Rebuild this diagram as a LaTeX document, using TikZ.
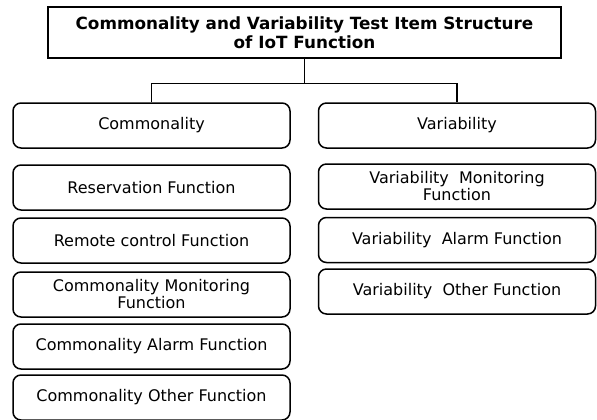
\documentclass[tikz,border=0pt]{standalone}
\usepackage{fontspec}
\setmainfont{DejaVu Sans}
\usetikzlibrary{calc}

\tikzset{
  titlebox/.style={draw, line width=1.5pt, minimum width=513pt, minimum height=51pt,
    inner sep=1pt, align=center, font=\bfseries\fontsize{16.8}{19}\selectfont},
  itembox/.style={draw, line width=1.5pt, rounded corners=8pt, minimum width=277pt,
    minimum height=45pt, inner sep=1pt, align=center, font=\fontsize{16}{17}\selectfont},
  link/.style={line width=1.5pt},
}

\begin{document}
\begin{tikzpicture}[x=1pt,y=-1pt]
\useasboundingbox (0,0) rectangle (597,420);

\node[titlebox] (title) at (304.5,32.5) {Commonality and Variability Test Item Structure\\of IoT Function};

% commonality column
\node[itembox] (comm) at (151.5,125.5) {Commonality};
\node[itembox] (resv) at (151.5,187.5) {Reservation Function};
\node[itembox] (remote) at (151.5,240.5) {Remote control Function};
\node[itembox] (cmon) at (151.5,294.5) {Commonality Monitoring\\Function};
\node[itembox] (calarm) at (151.5,346.5) {Commonality Alarm Function};
\node[itembox] (cother) at (151.5,397.5) {Commonality Other Function};

% variability column
\node[itembox] (var) at (457,125.5) {Variability};
\node[itembox] (vmon) at (457,186.5) {Variability~ Monitoring\\Function};
\node[itembox] (valarm) at (457,240) {Variability~ Alarm Function};
\node[itembox] (vother) at (457,291.5) {Variability~ Other Function};

\coordinate (fork) at ($(title.south)+(0,24.5)$);
\draw[link] (title.south) -- (fork);
\draw[link] (comm.north) |- (fork) -| (var.north);
\end{tikzpicture}
\end{document}
